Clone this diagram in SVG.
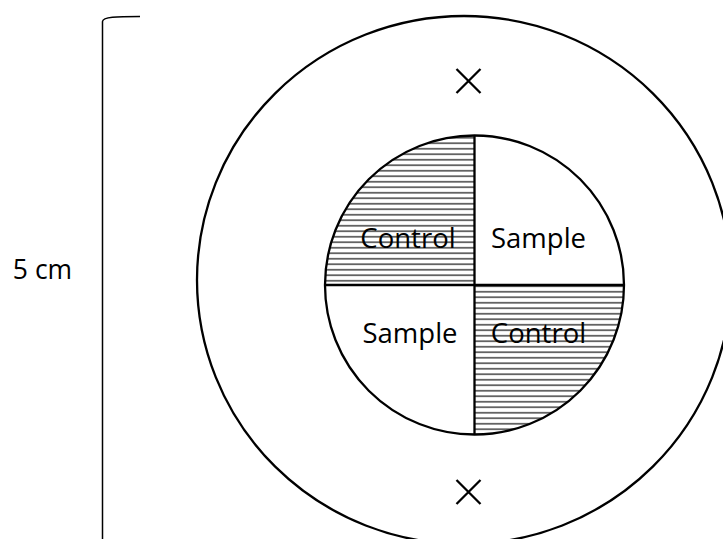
<svg xmlns="http://www.w3.org/2000/svg" width="723" height="539" viewBox="0 0 723 539">
<style>
.ln{fill:none;stroke:#000;stroke-width:2.3}
.thin{fill:none;stroke:#000;stroke-width:1.5}
.lbl{font-family:"Open Sans","Liberation Sans",Arial,sans-serif;font-size:27.5px;fill:#000;text-anchor:middle}
.side{font-size:26.5px}
</style>
<defs>
<pattern id="hatch" patternUnits="userSpaceOnUse" x="0" y="135" width="20" height="5.5">
<line x1="0" y1="2.75" x2="20" y2="2.75" stroke="#222" stroke-width="1.3"/>
</pattern>
</defs>
<rect width="723" height="539" fill="#fff"/>
<g id="bracket">
<path class="thin" d="M140,16.5 C116,16.5 103,17 102.5,21.5 L102.5,539"/>
<text class="lbl side" x="42.5" y="279">5 cm</text>
</g>
<g id="plate">
<ellipse class="ln" cx="464" cy="280" rx="267" ry="264"/>
</g>
<g id="marks">
<path class="ln" d="M456.5,69 L480.5,93 M480.5,69 L456.5,93"/>
<path class="ln" d="M456.5,480 L480.5,504 M480.5,480 L456.5,504"/>
</g>
<g id="control-top-left">
<path d="M474.5,285 L325,285 A149.5,149.5 0 0 1 474.5,135.5 Z" fill="url(#hatch)"/>
<text class="lbl" x="408" y="248">Control</text>
</g>
<g id="sample-top-right">
<text class="lbl" x="538.5" y="248">Sample</text>
</g>
<g id="sample-bottom-left">
<text class="lbl" x="410" y="343">Sample</text>
</g>
<g id="control-bottom-right">
<path d="M474.5,285 L624,285 A149.5,149.5 0 0 1 474.5,434.5 Z" fill="url(#hatch)"/>
<text class="lbl" x="538.5" y="343">Control</text>
</g>
<g id="disc">
<circle class="ln" cx="474.5" cy="285" r="149.5"/>
<path class="ln" d="M474.5,135.5 L474.5,434.5 M325,285 L624,285"/>
</g>
</svg>
